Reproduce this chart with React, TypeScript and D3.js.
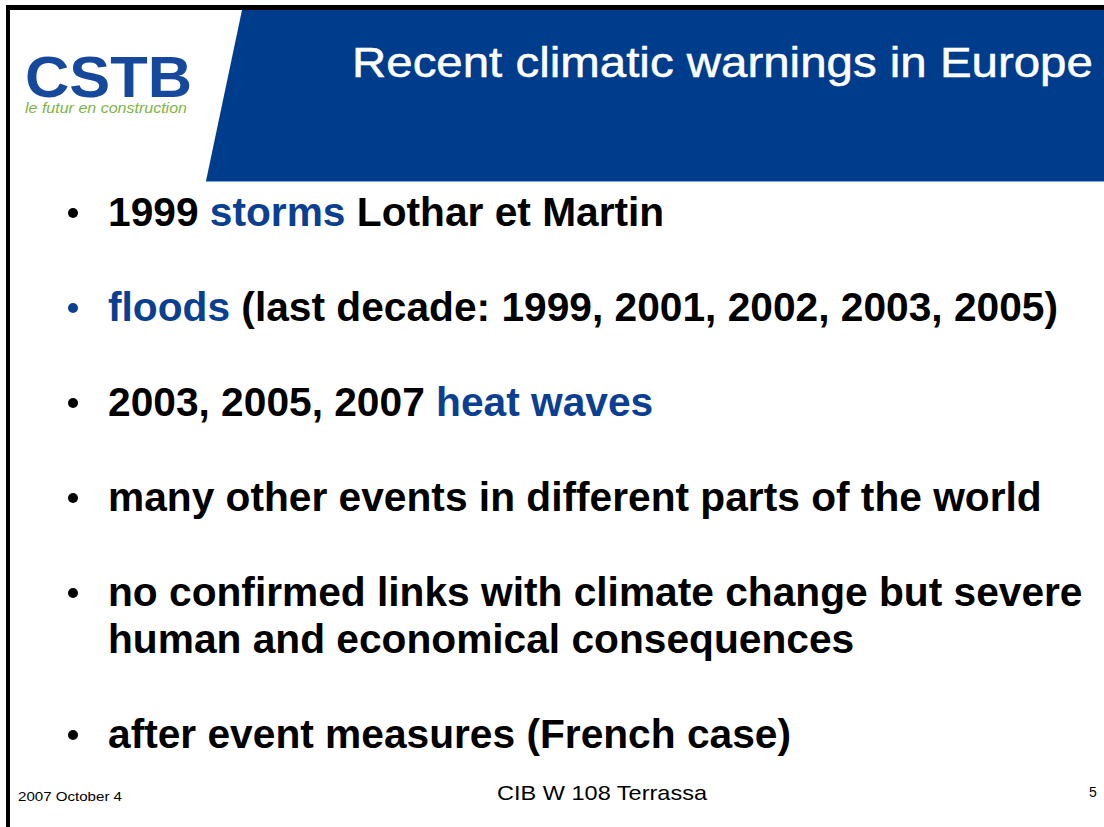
import React from "react";
import * as d3 from "d3";

const W = 1104;
const H = 827;

const TITLE = "Recent climatic warnings in Europe";
const LOGO_MAIN = "CSTB";
const LOGO_SUB = "le futur en construction";
const FOOTER_LEFT = "2007 October 4";
const FOOTER_MID = "CIB W 108 Terrassa";
const FOOTER_PAGE = "5";

// each bullet: lines of [text, highlighted] segments
const BULLET_LINES: [string, boolean][][][] = [
  [[["1999 ", false], ["storms", true], [" Lothar et Martin", false]]],
  [[["floods", true], [" (last decade: 1999, 2001, 2002, 2003, 2005)", false]]],
  [[["2003, 2005, 2007 ", false], ["heat waves", true]]],
  [[["many other events in different parts of the world", false]]],
  [
    [["no confirmed links with climate change but severe", false]],
    [["human and economical consequences", false]],
  ],
  [[["after event measures (French case)", false]]],
];
const BULLET_BLUE = [false, true, false, false, false, false];

const BLUE = "#003c8c";
const TEXT_BLUE = "#0b3f92";
const FONT = "Liberation Sans, Arial, sans-serif";

export default function App() {
  // bullet index -> baseline, wrapped lines add half a step
  const step = d3.scaleLinear().domain([0, 1]).range([226, 321]);
  const wrapStep = 47;
  let extra = 0;
  const layout = BULLET_LINES.map((lines, i) => {
    const y = step(i) + extra;
    extra += (lines.length - 1) * wrapStep;
    return { lines, y, blue: BULLET_BLUE[i] };
  });

  const headerPts: [number, number][] = [
    [242, 10],
    [W, 10],
    [W, 181],
    [206, 181],
  ];

  // title is a wide grotesque, stretch Liberation Sans to the measured width
  const titleSize = 43;
  const titleScale = 741 / (titleSize * 15.617);

  return (
    <div>
      <style>{`body{margin:0}`}</style>
      <svg width={W} height={H} style={{ display: "block", background: "#fff" }}>
        <rect x={0} y={0} width={W} height={H} fill="#fff" />
        {/* frame */}
        <rect x={6} y={5} width={W} height={5} fill="#000" />
        <rect x={6} y={5} width={4} height={H} fill="#000" />

        {/* header band */}
        <path d={d3.line()(headerPts) + "Z"} fill={BLUE} />
        <line x1={206} x2={W} y1={181.5} y2={181.5} stroke="#7aa7dd" strokeWidth={1} />
        <text
          transform={`translate(352,77) scale(${titleScale},1)`}
          fontFamily={FONT}
          fontSize={titleSize}
          fill="#fff"
          stroke="#fff"
          strokeWidth={0.5}
        >
          {TITLE}
        </text>

        {/* logo */}
        <text
          x={25}
          y={97}
          fontFamily={FONT}
          fontWeight="bold"
          fontSize={58}
          fill="#16489c"
          textLength={167}
          lengthAdjust="spacingAndGlyphs"
        >
          {LOGO_MAIN}
        </text>
        <text
          x={25}
          y={113}
          fontFamily={FONT}
          fontStyle="italic"
          fontSize={15}
          fill="#7db544"
          textLength={162}
          lengthAdjust="spacingAndGlyphs"
        >
          {LOGO_SUB}
        </text>

        {/* bullets */}
        {layout.map((b, i) => (
          <g key={i}>
            <circle cx={73} cy={b.y - 13} r={5} fill={b.blue ? TEXT_BLUE : "#000"} />
            {b.lines.map((segs, j) => (
              <text
                key={j}
                x={108}
                y={b.y + j * wrapStep}
                fontFamily={FONT}
                fontWeight="bold"
                fontSize={40.7}
                fill="#000"
              >
                {segs.map(([t, hl], k) => (
                  <tspan key={k} fill={hl ? TEXT_BLUE : "#000"}>
                    {t}
                  </tspan>
                ))}
              </text>
            ))}
          </g>
        ))}

        {/* footer */}
        <text
          x={18}
          y={801}
          fontFamily={FONT}
          fontSize={13}
          fill="#000"
          textLength={104}
          lengthAdjust="spacingAndGlyphs"
        >
          {FOOTER_LEFT}
        </text>
        <text
          x={497}
          y={800}
          fontFamily={FONT}
          fontSize={21}
          fill="#000"
          textLength={210}
          lengthAdjust="spacingAndGlyphs"
        >
          {FOOTER_MID}
        </text>
        <text x={1089} y={797} fontFamily={FONT} fontSize={14} fill="#000">
          {FOOTER_PAGE}
        </text>
      </svg>
    </div>
  );
}
